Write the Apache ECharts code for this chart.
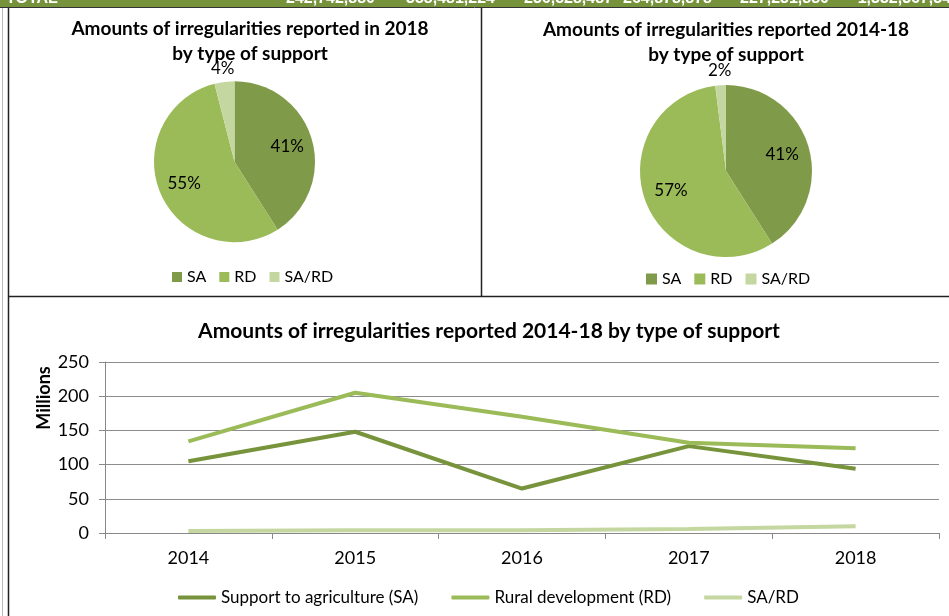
<!DOCTYPE html>
<html>
<head>
<meta charset="utf-8">
<script src="https://cdn.jsdelivr.net/npm/echarts@6/dist/echarts.min.js"></script>
<style>
html,body{margin:0;padding:0;background:#fff;}
#chart{width:949px;height:616px;}
</style>
</head>
<body>
<div id="chart"></div>
<script>
// ---- data ----
var years = ['2014', '2015', '2016', '2017', '2018'];
var saValues = [105, 148, 65, 127, 94];
var rdValues = [134, 205, 170, 132, 124];
var sardValues = [3, 4, 4, 6, 10];
var pieNames = ['SA', 'RD', 'SA/RD'];
var pie2018 = [41, 55, 4];
var pie2014to18 = [41, 57, 2];
var lineNames = ['Support to agriculture (SA)', 'Rural development (RD)', 'SA/RD'];
var yTicks = [0, 50, 100, 150, 200, 250];
var totalsRow = ['TOTAL', '242,742,880', '358,481,224', '236,528,487', '264,878,878', '227,231,880', '1,332,367,349'];

// ---- style ----
var FONT = 'Lato';
var colSA = '#7F9A48';
var colRD = '#9BBB59';
var colSARD = '#C4D7A0';
var pieColors = [colSA, colRD, colSARD];

function pieData(vals) {
  return vals.map(function (v, i) {
    return { name: pieNames[i], value: v, itemStyle: { color: pieColors[i] } };
  });
}

function pieLabelLayout(cx, cy) {
  return function (p) {
    var r = p.labelRect;
    var lx = r.x + r.width / 2, ly = r.y + r.height / 2;
    var k = p.dataIndex === 2 ? 2.18 : 1.27;
    return { dx: (lx - cx) * (k - 1), dy: (ly - cy) * (k - 1) };
  };
}

var chart = echarts.init(document.getElementById('chart'), null, { renderer: 'canvas' });

var totalsGraphics = [];
var totalsRight = [68, 375, 495, 613, 712, 829, 960];
totalsRow.forEach(function (t, i) {
  totalsGraphics.push({
    type: 'text', z: 10,
    x: i === 0 ? 6 : totalsRight[i], y: 7,
    style: { text: t, fill: '#fff', font: 'bold 16px "Liberation Sans"', align: i === 0 ? 'left' : 'right', verticalAlign: 'bottom' }
  });
});

var option = {
  animation: false,
  backgroundColor: '#fff',
  textStyle: { fontFamily: FONT },
  graphic: [
    { type: 'rect', shape: { x: 0, y: 0, width: 949, height: 7 }, style: { fill: '#76933C' }, z: 5 },
    { type: 'line', shape: { x1: 0, y1: 7.5, x2: 949, y2: 7.5 }, style: { stroke: '#333', lineWidth: 1 }, z: 6 },
    { type: 'line', shape: { x1: 8.5, y1: 8, x2: 8.5, y2: 616 }, style: { stroke: '#222', lineWidth: 1.5 } },
    { type: 'line', shape: { x1: 2.5, y1: 8, x2: 2.5, y2: 616 }, style: { stroke: '#bbb', lineWidth: 1 } },
    { type: 'line', shape: { x1: 481.5, y1: 8, x2: 481.5, y2: 296 }, style: { stroke: '#222', lineWidth: 1.5 } },
    { type: 'line', shape: { x1: 8, y1: 296.5, x2: 949, y2: 296.5 }, style: { stroke: '#222', lineWidth: 1.5 } },
    { type: 'text', x: 44, y: 398, rotation: Math.PI / 2,
      style: { text: 'Millions', font: 'bold 18px Lato', fill: '#000', align: 'center', verticalAlign: 'middle' } }
  ].concat(totalsGraphics),
  title: [
    { text: 'Amounts of irregularities reported in 2018\nby type of support', left: 245, top: 11, textAlign: 'center',
      textStyle: { fontFamily: FONT, fontSize: 19, fontWeight: 'bold', color: '#000', lineHeight: 25 } },
    { text: 'Amounts of irregularities reported 2014-18\nby type of support', left: 721, top: 12, textAlign: 'center',
      textStyle: { fontFamily: FONT, fontSize: 19, fontWeight: 'bold', color: '#000', lineHeight: 25 } },
    { text: 'Amounts of irregularities reported 2014-18 by type of support', left: 484, top: 313, textAlign: 'center',
      textStyle: { fontFamily: FONT, fontSize: 21, fontWeight: 'bold', color: '#000', lineHeight: 26 } }
  ],
  legend: [
    { data: pieNames, left: 167, top: 264, icon: 'rect', itemWidth: 10, itemHeight: 10, itemGap: 13,
      textStyle: { fontFamily: FONT, fontSize: 16, color: '#000' } },
    { data: pieNames, left: 641, top: 266, icon: 'rect', itemWidth: 11, itemHeight: 11, itemGap: 13,
      textStyle: { fontFamily: FONT, fontSize: 16, color: '#000' } },
    { data: lineNames, left: 173, top: 584, icon: 'roundRect', itemWidth: 38, itemHeight: 4, itemGap: 33,
      textStyle: { fontFamily: FONT, fontSize: 17, color: '#000' } }
  ],
  grid: { left: 105, right: 10, top: 362, bottom: 83, containLabel: false },
  xAxis: {
    type: 'category', data: years, boundaryGap: true,
    axisLine: { lineStyle: { color: '#888', width: 1 } },
    axisTick: { show: true, length: 6, lineStyle: { color: '#888' } },
    axisLabel: { fontFamily: FONT, fontSize: 18, color: '#000', margin: 16 }
  },
  yAxis: {
    type: 'value', min: yTicks[0], max: yTicks[yTicks.length - 1], interval: 50,
    axisLine: { show: true, lineStyle: { color: '#888', width: 1 } },
    axisTick: { show: true, length: 6, lineStyle: { color: '#888' } },
    axisLabel: { fontFamily: FONT, fontSize: 18, color: '#000', margin: 16 },
    splitLine: { lineStyle: { color: '#8c8c8c', width: 1 } }
  },
  series: [
    { type: 'pie', name: 'pie2018', center: [234.5, 161.7], radius: 80.5, startAngle: 90, clockwise: true,
      data: pieData(pie2018), itemStyle: { borderWidth: 0 },
      label: { position: 'inside', formatter: '{c}%', fontFamily: FONT, fontSize: 17, color: '#000' },
      labelLine: { show: false }, labelLayout: pieLabelLayout(234.5, 161.7), emphasis: { disabled: true } },
    { type: 'pie', name: 'pie2014-18', center: [726, 171], radius: 86, startAngle: 90, clockwise: true,
      data: pieData(pie2014to18), itemStyle: { borderWidth: 0 },
      label: { position: 'inside', formatter: '{c}%', fontFamily: FONT, fontSize: 17, color: '#000' },
      labelLine: { show: false }, labelLayout: pieLabelLayout(726, 171), emphasis: { disabled: true } },
    { type: 'line', name: lineNames[0], data: saValues, showSymbol: false, symbol: 'none',
      lineStyle: { color: '#77933C', width: 4 }, itemStyle: { color: '#77933C' } },
    { type: 'line', name: lineNames[1], data: rdValues, showSymbol: false, symbol: 'none',
      lineStyle: { color: colRD, width: 4 }, itemStyle: { color: colRD } },
    { type: 'line', name: lineNames[2], data: sardValues, showSymbol: false, symbol: 'none',
      lineStyle: { color: colSARD, width: 4 }, itemStyle: { color: colSARD } }
  ]
};
chart.setOption(option);
</script>
</body>
</html>
